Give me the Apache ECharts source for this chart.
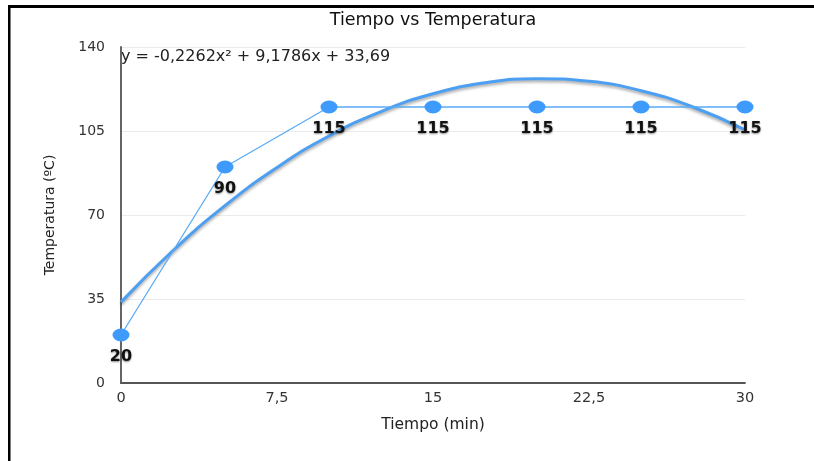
<!DOCTYPE html>
<html><head><meta charset="utf-8">
<script src="https://cdn.jsdelivr.net/npm/echarts@6/dist/echarts.min.js"></script>
<style>html,body{margin:0;padding:0;background:#fff}#c{width:814px;height:461px}</style>
</head><body><div id="c"></div>
<script>
const tiempo = [0, 5, 10, 15, 20, 25, 30];
const temperatura = [20, 90, 115, 115, 115, 115, 115];
const trendX = [0, 2.5, 5, 7.5, 10, 12.5, 15, 17.5, 20, 22.5, 25, 27.5, 30];
const trendY = [33.7, 55.2, 73.9, 89.8, 102.9, 113.1, 120.5, 125.1, 126.8, 125.7, 121.8, 115.0, 105.5];
const yTicks = [0, 35, 70, 105, 140];
const xTicks = [0, 7.5, 15, 22.5, 30];
const titleText = 'Tiempo vs Temperatura';
const equation = 'y = -0,2262x² + 9,1786x + 33,69';

const FONT = 'DejaVu Sans';
const fmt = v => String(v).replace('.', ',');
const chart = echarts.init(document.getElementById('c'), null, {renderer: 'canvas'});
chart.setOption({
  animation: false,
  backgroundColor: '#fff',
  textStyle: {fontFamily: FONT},
  grid: {left: 121, right: 69, top: 47, bottom: 78},
  xAxis: {type: 'value', min: xTicks[0], max: xTicks[xTicks.length-1], interval: 7.5,
    name: 'Tiempo (min)', nameLocation: 'middle', nameGap: 34,
    nameTextStyle: {fontSize: 15.5, color: '#222', fontFamily: FONT},
    axisLine: {lineStyle: {color: '#555', width: 1.8}},
    axisTick: {show: false}, splitLine: {show: false},
    axisLabel: {fontSize: 14.5, color: '#333', margin: 8, fontFamily: FONT, formatter: v => fmt(v)}},
  yAxis: {type: 'value', min: yTicks[0], max: yTicks[yTicks.length-1], interval: 35,
    name: 'Temperatura (ºC)', nameLocation: 'middle', nameGap: 64,
    nameTextStyle: {fontSize: 14, color: '#222', fontFamily: FONT},
    axisLine: {show: true, lineStyle: {color: '#555', width: 1.8}},
    axisTick: {show: false},
    splitLine: {lineStyle: {color: '#ebebeb'}},
    axisLabel: {fontSize: 14, color: '#333', margin: 16, fontFamily: FONT, formatter: v => fmt(v)}},
  series: [
    {type: 'line', name: 'trend', data: trendX.map((x, i) => [x, trendY[i]]),
      smooth: true, showSymbol: false, z: 2,
      lineStyle: {color: '#4d9ff2', width: 3, shadowColor: 'rgba(0,0,0,0.35)', shadowBlur: 3, shadowOffsetY: 2}},
    {type: 'line', name: 'data', data: tiempo.map((x, i) => [x, temperatura[i]]),
      symbol: 'circle', symbolSize: [17, 13], z: 3,
      itemStyle: {color: '#3f9bfb'},
      lineStyle: {color: '#5aabf7', width: 1.3},
      label: {show: true, position: 'bottom', distance: 7, fontSize: 16, fontWeight: 'bold', fontFamily: FONT,
        color: '#111', textShadowColor: 'rgba(0,0,0,0.45)', textShadowBlur: 2, textShadowOffsetY: 1}}
  ],
  graphic: [
    {type: 'text', x: 433, y: 20, style: {text: titleText, fontSize: 17.5, fill: '#111', fontFamily: FONT,
      textAlign: 'center', textVerticalAlign: 'middle'}},
    {type: 'text', x: 121, y: 57, style: {text: equation, fontSize: 16, fill: '#222', fontFamily: FONT,
      textVerticalAlign: 'middle'}},
    {type: 'rect', shape: {x: 8, y: 5, width: 806, height: 3}, style: {fill: '#000'}},
    {type: 'rect', shape: {x: 8, y: 5, width: 2.5, height: 456}, style: {fill: '#000'}}
  ]
});
</script></body></html>
